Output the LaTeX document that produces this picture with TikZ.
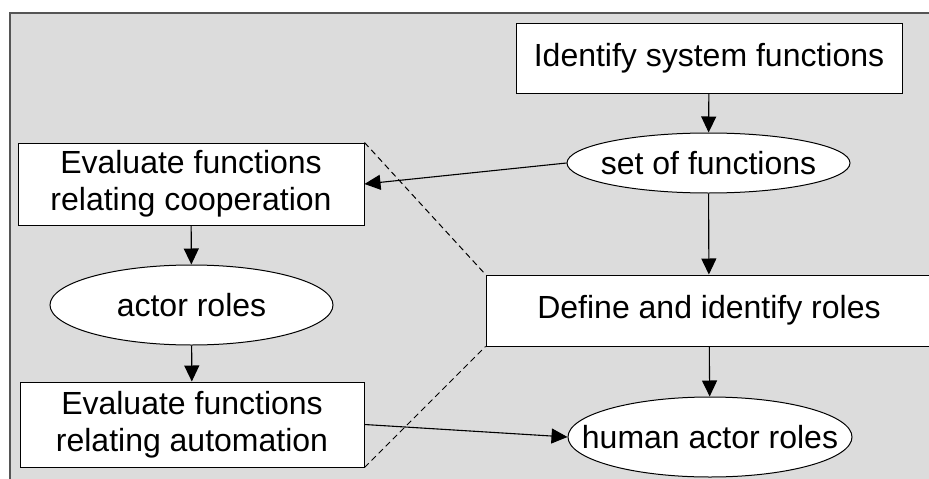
\documentclass[tikz,border=0pt]{standalone}
\usepackage{fontspec}
\setmainfont{Liberation Sans}
\usepackage{tikz}
\usetikzlibrary{shapes.geometric, arrows.meta}

\definecolor{panelgray}{RGB}{220,220,220}
\definecolor{framegray}{RGB}{85,85,85}

\begin{document}
\begin{tikzpicture}[x = 1pt, y = -1pt,
        taskbox/.style = {draw, fill = white, rectangle, align = center, line width = 1pt, font = \fontsize{32}{37}\selectfont},
        databox/.style = {draw, fill = white, ellipse, inner sep = 0pt, line width = 1pt, font = \fontsize{32}{37}\selectfont},
        flow/.style = {-{Triangle[length = 16pt, width = 15pt]}, line width = 1.1pt}
    ]
        \useasboundingbox (0, 0) rectangle (929, 479);
        \draw[fill = panelgray, draw = framegray, line width = 2pt]
            (10, 13) rectangle (945, 495)
        ;

        \draw
            (709, 58) node[taskbox, minimum width = 386pt, minimum height = 70pt](ident){Identify system functions}
            (708.5, 163) node[databox, minimum width = 283pt, minimum height = 60pt](setfun){\makebox[0pt]{set of functions}}

            (191, 184) node[taskbox, minimum width = 346pt, minimum height = 82pt](coop){Evaluate functions\\relating cooperation}
            (191.5, 305) node[databox, minimum width = 283pt, minimum height = 80pt](actor){\makebox[0pt]{actor roles}}
            (192, 424.5) node[taskbox, minimum width = 344pt, minimum height = 85pt](auto){Evaluate functions\\relating automation}

            (709, 310.5) node[taskbox, minimum width = 446pt, minimum height = 71pt](define){Define and identify roles}
            (710, 437) node[databox, minimum width = 284pt, minimum height = 80pt](human){\makebox[0pt]{human actor roles}}
        ;

        \draw[flow]
            (ident) -- (setfun)
        ;
        \draw[flow]
            (setfun.west) -- (coop.east)
        ;
        \draw[flow]
            (setfun) -- (define)
        ;
        \draw[flow]
            (define) -- (human)
        ;
        \draw[flow]
            (coop) -- (actor)
        ;
        \draw[flow]
            (actor) -- (auto)
        ;
        \draw[flow]
            (auto.east) -- (human.west)
        ;

        \draw[dash pattern = on 6pt off 4pt, line width = 1pt]
            (coop.north east) -- (define.north west)
            (auto.south east) -- (define.south west)
        ;
    \end{tikzpicture}
\end{document}
